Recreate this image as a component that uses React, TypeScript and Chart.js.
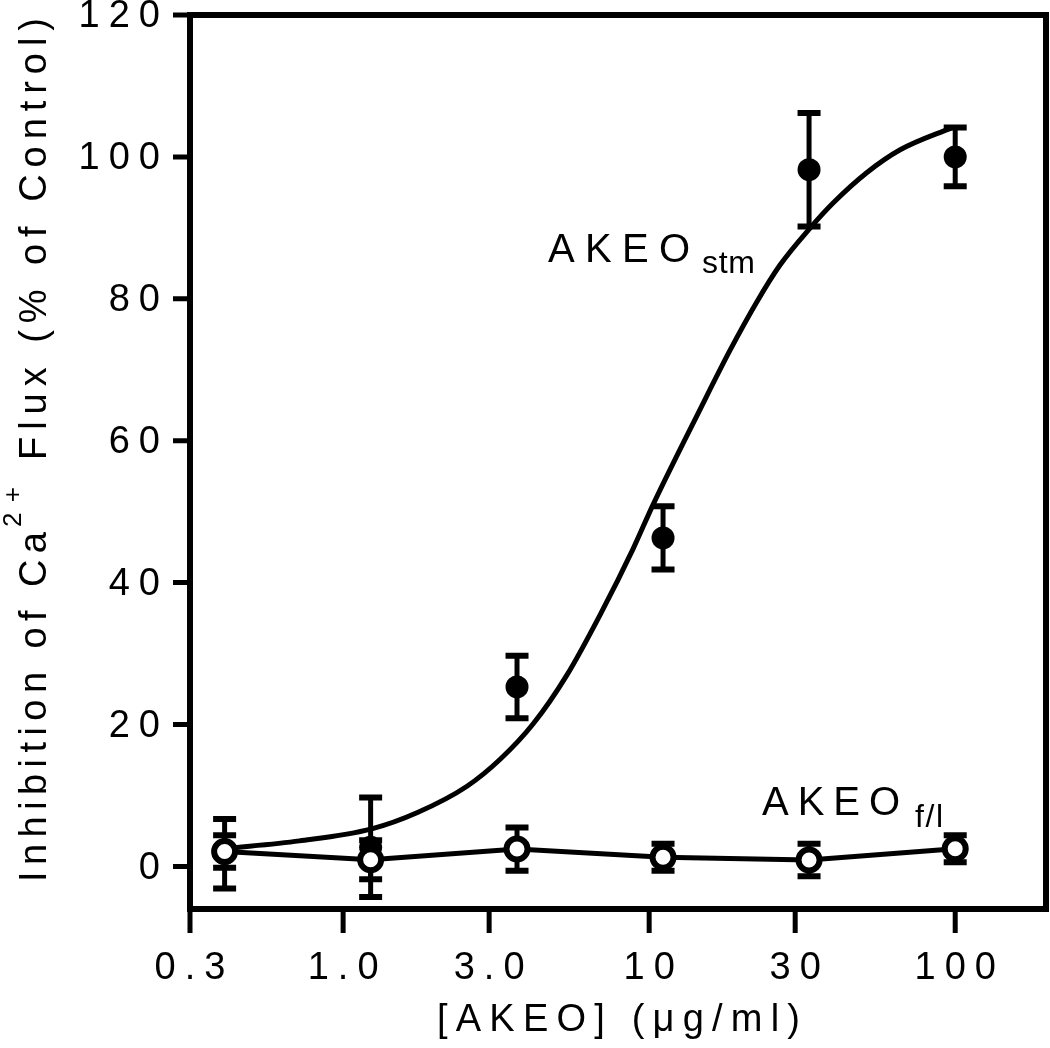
import { useEffect, useRef } from "react";
import { Chart, registerables } from "chart.js";

Chart.register(...registerables);

// ---- Data ----
const concentrations = [0.41, 1.23, 3.7, 11.1, 33.3, 100];
const stmMean = [1.8, 2.7, 25.3, 46.3, 98.2, 100.0];
const stmErr = [4.9, 7.0, 4.4, 4.45, 8.0, 4.15];
const flMean = [2.1, 0.95, 2.45, 1.3, 0.9, 2.5];
const flErr = [2.3, 2.75, 3.05, 1.9, 2.3, 1.9];
const fitX = [0.41, 0.72, 1.24, 1.75, 2.54, 3.26, 4.18, 5.39, 6.92, 8.87, 10.3, 14.7, 18.4, 22.5, 26.8, 33.6, 39.9, 51.5, 66.1, 98.5];
const fitY = [2.5, 3.6, 5.3, 7.6, 11.3, 15.1, 20.1, 27.0, 35.5, 44.8, 51.0, 64.5, 72.8, 79.6, 84.8, 90.0, 93.5, 97.8, 101.0, 104.2];
const xTickValues = [0.316, 1, 3, 10, 30, 100];
const xTickLabels = ["0.3", "1.0", "3.0", "10", "30", "100"];
const yTickValues = [0, 20, 40, 60, 80, 100, 120];
const yTickLabels = ["0", "20", "40", "60", "80", "100", "120"];

const FONT = '"Liberation Sans", Arial, Helvetica, sans-serif';

function textWidth(ctx: CanvasRenderingContext2D, text: string, spacing: number) {
  let w = 0;
  for (const ch of text) w += ctx.measureText(ch).width;
  return w + spacing * Math.max(0, [...text].length - 1);
}

function drawSpaced(ctx: CanvasRenderingContext2D, text: string, x: number, y: number, spacing: number) {
  let cx = x;
  for (const ch of text) {
    ctx.fillText(ch, cx, y);
    cx += ctx.measureText(ch).width + spacing;
  }
}

function drawFitted(ctx: CanvasRenderingContext2D, text: string, x: number, y: number, target: number) {
  const chars = [...text];
  let w = 0;
  for (const ch of chars) w += ctx.measureText(ch).width;
  const spacing = chars.length > 1 ? (target - w) / (chars.length - 1) : 0;
  drawSpaced(ctx, text, x, y, spacing);
}

const decorPlugin = {
  id: "decor",
  beforeDatasetsDraw(chart: any) {
    const ctx: CanvasRenderingContext2D = chart.ctx;
    const xs = chart.scales.x;
    const ys = chart.scales.y;
    ctx.save();
    ctx.strokeStyle = "#000";
    ctx.lineCap = "butt";
    const bars = (means: number[], errs: number[]) => {
      concentrations.forEach((c, i) => {
        const px = xs.getPixelForValue(c);
        const top = ys.getPixelForValue(means[i] + errs[i]);
        const bot = ys.getPixelForValue(means[i] - errs[i]);
        ctx.lineWidth = 5;
        ctx.beginPath();
        ctx.moveTo(px, top);
        ctx.lineTo(px, bot);
        ctx.stroke();
        ctx.lineWidth = 6;
        ctx.beginPath();
        ctx.moveTo(px - 11.5, top);
        ctx.lineTo(px + 11.5, top);
        ctx.moveTo(px - 11.5, bot);
        ctx.lineTo(px + 11.5, bot);
        ctx.stroke();
      });
    };
    bars(stmMean, stmErr);
    bars(flMean, flErr);
    ctx.restore();
  },
  afterDraw(chart: any) {
    const ctx: CanvasRenderingContext2D = chart.ctx;
    const a = chart.chartArea;
    const xs = chart.scales.x;
    const ys = chart.scales.y;
    ctx.save();
    ctx.strokeStyle = "#000";
    ctx.fillStyle = "#000";
    // frame
    ctx.lineWidth = 6;
    ctx.strokeRect(a.left, a.top, a.right - a.left, a.bottom - a.top);
    // ticks
    ctx.lineWidth = 5;
    ctx.beginPath();
    yTickValues.forEach((v) => {
      const py = ys.getPixelForValue(v);
      ctx.moveTo(a.left - 17, py);
      ctx.lineTo(a.left, py);
    });
    xTickValues.forEach((v) => {
      const px = xs.getPixelForValue(v);
      ctx.moveTo(px, a.bottom);
      ctx.lineTo(px, a.bottom + 24);
    });
    ctx.stroke();
    // tick labels
    ctx.font = `38px ${FONT}`;
    ctx.textBaseline = "middle";
    yTickValues.forEach((v, i) => {
      const py = ys.getPixelForValue(v);
      const w = textWidth(ctx, yTickLabels[i], 9);
      drawSpaced(ctx, yTickLabels[i], 160 - w, py + 2, 9);
    });
    ctx.textBaseline = "alphabetic";
    xTickValues.forEach((v, i) => {
      const px = xs.getPixelForValue(v);
      const w = textWidth(ctx, xTickLabels[i], 9);
      drawSpaced(ctx, xTickLabels[i], px - w / 2, 979, 9);
    });
    // x title
    ctx.font = `38px ${FONT}`;
    drawFitted(ctx, "[AKEO] (\u03bcg/ml)", 437, 1031, 363);
    // y title (rotated)
    ctx.save();
    ctx.translate(46, 882);
    ctx.rotate(-Math.PI / 2);
    ctx.font = `38px ${FONT}`;
    drawFitted(ctx, "Inhibition of Ca", 0, 0, 350);
    ctx.font = `26px ${FONT}`;
    drawFitted(ctx, "2+", 355, -25, 40);
    ctx.font = `38px ${FONT}`;
    drawFitted(ctx, "Flux (% of Control)", 422, 0, 442);
    ctx.restore();
    // annotations
    ctx.font = `40px ${FONT}`;
    drawFitted(ctx, "AKEO", 548, 262, 142);
    ctx.font = `32px ${FONT}`;
    drawFitted(ctx, "stm", 702, 273, 53);
    ctx.font = `40px ${FONT}`;
    drawFitted(ctx, "AKEO", 762, 815, 138);
    ctx.font = `32px ${FONT}`;
    drawFitted(ctx, "f/l", 915, 827, 28);
    ctx.restore();
  },
};

export default function App() {
  const ref = useRef<HTMLCanvasElement | null>(null);
  useEffect(() => {
    document.body.style.margin = "0";
    const canvas = ref.current;
    if (!canvas) return;
    const chart = new Chart(canvas, {
      type: "line",
      data: {
        datasets: [
          {
            label: "AKEO f/l",
            data: concentrations.map((x, i) => ({ x, y: flMean[i] })),
            borderColor: "#000",
            borderWidth: 5,
            tension: 0,
            pointRadius: 10.5,
            pointBorderWidth: 6,
            pointBackgroundColor: "#fff",
            pointBorderColor: "#000",
          },
          {
            label: "AKEO stm",
            data: concentrations.map((x, i) => ({ x, y: stmMean[i] })),
            showLine: false,
            borderColor: "#000",
            pointRadius: 11.5,
            pointBorderWidth: 0,
            pointBackgroundColor: "#000",
            pointBorderColor: "#000",
          },
          {
            label: "fit",
            data: fitX.map((x, i) => ({ x, y: fitY[i] })),
            borderColor: "#000",
            borderWidth: 5,
            pointRadius: 0,
            cubicInterpolationMode: "monotone",
          },
        ],
      } as any,
      options: {
        animation: false,
        responsive: false,
        devicePixelRatio: 1,
        layout: { autoPadding: false, padding: { top: 15, right: 4, left: 0, bottom: 0 } },
        plugins: { legend: { display: false }, tooltip: { enabled: false } },
        scales: {
          x: {
            type: "logarithmic",
            bounds: "data",
            min: 0.316,
            max: 198,
            grid: { display: false },
            border: { display: false },
            ticks: { display: false },
            afterBuildTicks: (s: any) => {
              s.ticks = xTickValues.map((v) => ({ value: v }));
            },
            afterFit: (s: any) => {
              s.height = 1048 - 909;
            },
          },
          y: {
            type: "linear",
            min: -6,
            max: 120,
            grid: { display: false },
            border: { display: false },
            ticks: { display: false },
            afterBuildTicks: (s: any) => {
              s.ticks = yTickValues.map((v) => ({ value: v }));
            },
            afterFit: (s: any) => {
              s.width = 190;
            },
          },
        },
      } as any,
      plugins: [decorPlugin],
    });
    return () => chart.destroy();
  }, []);
  return <canvas ref={ref} width={1050} height={1048} style={{ display: "block" }} />;
}
